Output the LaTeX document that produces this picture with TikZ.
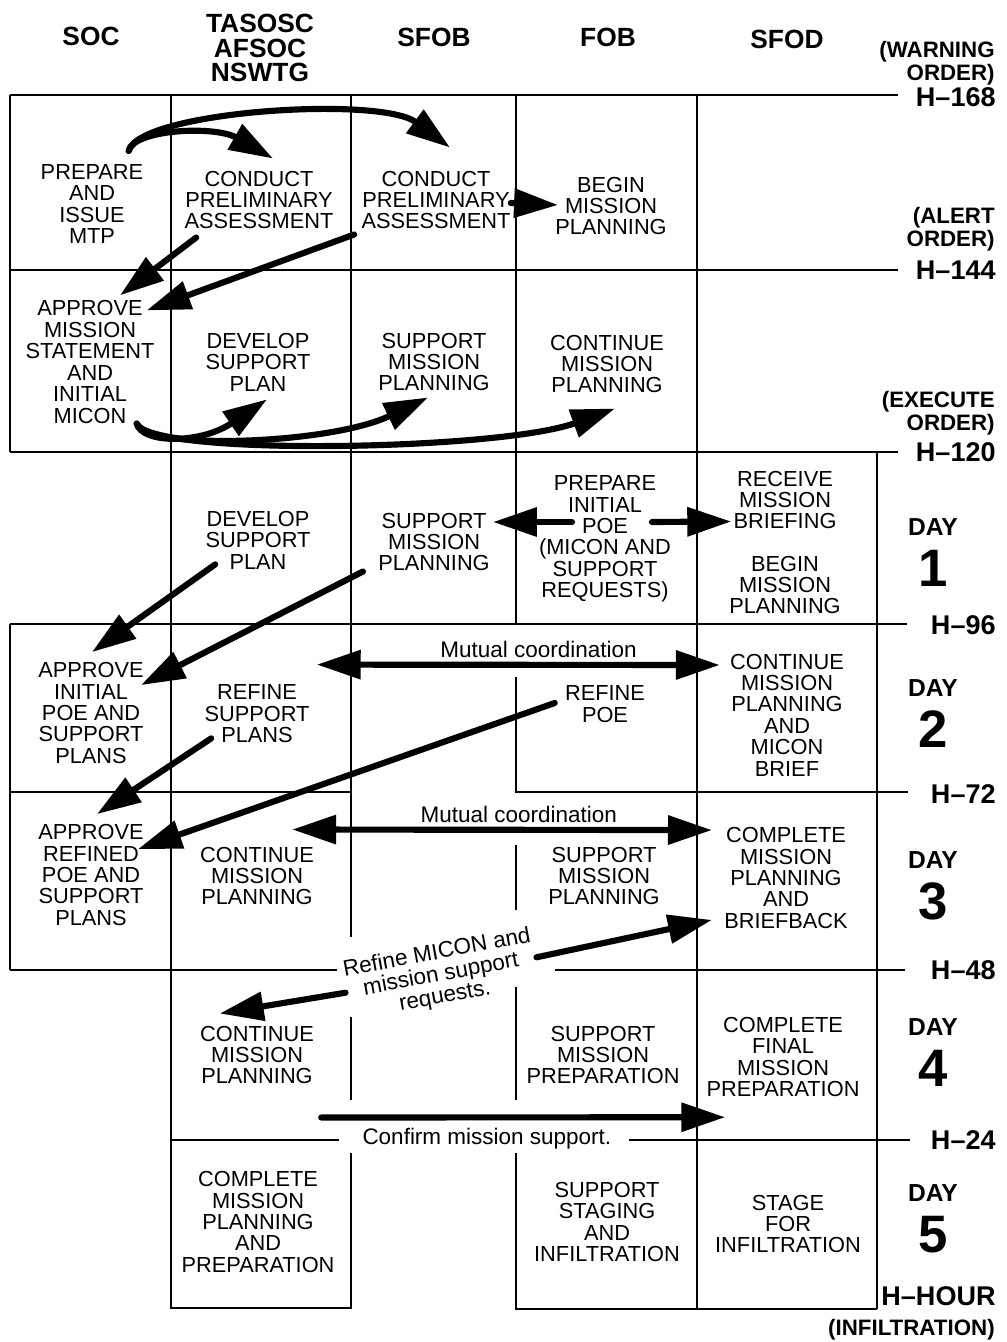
\documentclass[tikz,border=0pt]{standalone}
\usepackage{fontspec}
\setmainfont{Liberation Sans}
\usetikzlibrary{positioning, arrows.meta}
\tikzset{
    cell/.style={align=center, inner sep=0pt, font=\fontsize{12.4}{12.2}\selectfont},
    colhead/.style={align=center, inner sep=0pt, font=\bfseries\fontsize{15}{14}\selectfont},
    hourlbl/.style={anchor=east, inner sep=0pt, font=\bfseries\fontsize{15.4}{15}\selectfont},
    orderlbl/.style={anchor=east, align=right, inner sep=0pt, font=\bfseries\fontsize{12.7}{13}\selectfont},
    daylbl/.style={inner sep=0pt, font=\bfseries\fontsize{14}{14}\selectfont},
    daynum/.style={inner sep=0pt, font=\bfseries\fontsize{30}{30}\selectfont},
    note/.style={align=center, inner sep=1pt, font=\fontsize{12.8}{12.5}\selectfont},
    gridline/.style={line width=1.2pt},
    flow/.style={line width=3.5pt, line cap=round, -{Triangle[length=25pt, width=16pt]}},
    twoway/.style={line width=3.5pt, {Triangle[length=25pt, width=16pt]}-{Triangle[length=25pt, width=16pt]}},
}

\begin{document}
\begin{tikzpicture}[x=0.02cm, y=-0.02cm]
    \useasboundingbox (0,0) rectangle (1007,1342);

    % Intestazioni delle colonne
    \node[colhead] (hsoc) at (91,36) {SOC};
    \node[colhead] (htas) at (260,48) {TASOSC\\AFSOC\\NSWTG};
    \node[colhead] (hsfob) at (434,37) {SFOB};
    \node[colhead] (hfob) at (608,37) {FOB};
    \node[colhead] (hsfod) at (787,39) {SFOD};

    % Linee orarie
    \draw[gridline] (10,95) -- (898,95);
    \draw[gridline] (10,270) -- (898,270);
    \draw[gridline] (10,452) -- (898,452);
    \draw[gridline] (10,624) -- (907,624);
    \draw[gridline] (10,792) -- (351,792);
    \draw[gridline] (516,677) -- (516,792) -- (908,792);
    \draw[gridline] (10,970) -- (337,970);
    \draw[gridline] (555,970) -- (905,970);
    \draw[gridline] (171,1140) -- (339,1140);
    \draw[gridline] (629,1140) -- (910,1140);

    % Bordi delle colonne
    \draw[gridline] (10,95) -- (10,452);
    \draw[gridline] (10,624) -- (10,970);
    \draw[gridline] (171,95) -- (171,1308) -- (351,1308) -- (351,1153);
    \draw[gridline] (351,95) -- (351,937);
    \draw[gridline] (351,1017) -- (351,1100);
    \draw[gridline] (516,95) -- (516,624);
    \draw[gridline] (516,845) -- (516,910);
    \draw[gridline] (516,987) -- (516,1100);
    \draw[gridline] (516,1153) -- (516,1309) -- (877,1309);
    \draw[gridline] (697,95) -- (697,1309);
    \draw[gridline] (877,452) -- (877,1309);

    % Ore e ordini
    \foreach \h/\y in {168/97, 144/270, 120/452, 96/625, 72/794, 48/970, 24/1140}
        \node[hourlbl] (h\h) at (996,\y) {H--\h};
    \node[hourlbl] (hhour) at (996,1296) {H--HOUR};
    \node[orderlbl] (warn) at (995,63) {(WARNING\\ORDER)};
    \node[orderlbl] (alert) at (995,229) {(ALERT\\ORDER)};
    \node[orderlbl] (exec) at (995,413) {(EXECUTE\\ORDER)};
    \node[orderlbl] (infil) at (995,1330) {(INFILTRATION)};

    % Giorni
    \foreach \d/\y in {1/527, 2/688, 3/860, 4/1027, 5/1193}{
        \node[daylbl] (day\d) at (933,\y) {DAY};
        \node[daynum, below=0.28cm of day\d] (num\d) {\d};
    }

    % Da H-168 a H-144
    \node[cell] (soc1) at (92,204) {PREPARE\\AND\\ISSUE\\MTP};
    \node[cell] (tas1) at (259,200) {CONDUCT\\PRELIMINARY\\ASSESSMENT};
    \node[cell] (sfob1) at (436,200) {CONDUCT\\PRELIMINARY\\ASSESSMENT};
    \node[cell] (fob1) at (611,206) {BEGIN\\MISSION\\PLANNING};

    % Da H-144 a H-120
    \node[cell] (soc2) at (90,362) {APPROVE\\MISSION\\STATEMENT\\AND\\INITIAL\\MICON};
    \node[cell] (tas2) at (258,362) {DEVELOP\\SUPPORT\\PLAN};
    \node[cell] (sfob2) at (434,362) {SUPPORT\\MISSION\\PLANNING};
    \node[cell] (fob2) at (607,364) {CONTINUE\\MISSION\\PLANNING};

    % Giorno 1
    \node[cell] (tas3) at (258,540) {DEVELOP\\SUPPORT\\PLAN};
    \node[cell] (sfob3) at (434,542) {SUPPORT\\MISSION\\PLANNING};
    \node[cell] (fob3) at (605,539) {PREPARE\\INITIAL\\POE\\(MICON AND\\SUPPORT\\REQUESTS)};
    \node[cell] (sfod3a) at (785,500) {RECEIVE\\MISSION\\BRIEFING};
    \node[cell] (sfod3b) at (785,585) {BEGIN\\MISSION\\PLANNING};

    % Giorno 2
    \node[cell] (soc4) at (91,713) {APPROVE\\INITIAL\\POE AND\\SUPPORT\\PLANS};
    \node[cell] (tas4) at (257,714) {REFINE\\SUPPORT\\PLANS};
    \node[cell] (fob4) at (605,704) {REFINE\\POE};
    \node[cell] (sfod4) at (787,715) {CONTINUE\\MISSION\\PLANNING\\AND\\MICON\\BRIEF};

    % Giorno 3
    \node[cell] (soc5) at (91,875) {APPROVE\\REFINED\\POE AND\\SUPPORT\\PLANS};
    \node[cell] (tas5) at (257,876) {CONTINUE\\MISSION\\PLANNING};
    \node[cell] (fob5) at (604,876) {SUPPORT\\MISSION\\PLANNING};
    \node[cell] (sfod5) at (786,878) {COMPLETE\\MISSION\\PLANNING\\AND\\BRIEFBACK};

    % Giorno 4
    \node[cell] (tas6) at (257,1055) {CONTINUE\\MISSION\\PLANNING};
    \node[cell] (fob6) at (603,1055) {SUPPORT\\MISSION\\PREPARATION};
    \node[cell] (sfod6) at (783,1057) {COMPLETE\\FINAL\\MISSION\\PREPARATION};

    % Giorno 5
    \node[cell] (tas7) at (258,1222) {COMPLETE\\MISSION\\PLANNING\\AND\\PREPARATION};
    \node[cell] (fob7) at (607,1222) {SUPPORT\\STAGING\\AND\\INFILTRATION};
    \node[cell] (sfod7) at (788,1224) {STAGE\\FOR\\INFILTRATION};

    % Frecce: MTP e valutazioni
    \draw[flow] ([shift={(-15,-13)}]soc1.north east) .. controls +(5,-22) and +(-58,-33) .. ([shift={(14,-12)}]tas1.north);
    \draw[flow] ([shift={(-15,-13)}]soc1.north east) .. controls +(10,-40) and +(-70,-52) .. ([shift={(14,-23)}]sfob1.north);
    \draw[flow] ([shift={(12,8)}]tas1.south west) -- ([shift={(30,-5)}]soc2.north);
    \draw[flow] ([shift={(-7,5)}]sfob1.south west) -- ([shift={(-8,10)}]soc2.north east);
    \draw[flow] ([shift={(0,3)}]sfob1.east) -- ([shift={(3,-1)}]fob1.west);

    % Frecce: dalla MICON iniziale
    \draw[flow] ([shift={(-18,0)}]soc2.south east) .. controls +(5,20) and +(-67,45) .. ([shift={(9,8)}]tas2.south);
    \draw[flow] ([shift={(-18,0)}]soc2.south east) .. controls +(10,27) and +(-98,47) .. ([shift={(-6,6)}]sfob2.south);
    \draw[flow] ([shift={(-18,0)}]soc2.south east) .. controls +(15,33) and +(-115,42) .. ([shift={(8,15)}]fob2.south);

    % Frecce: giorno 1
    \draw[flow] ([shift={(-33,-17)}]fob3.center) -- ([shift={(3,-20)}]sfob3.east);
    \draw[flow] ([shift={(47,-17)}]fob3.center) -- ([shift={(-2,-8)}]sfod3a.south west);
    \draw[flow] ([shift={(10,-5)}]tas3.south west) -- ([shift={(1,-10)}]soc4.north);
    \draw[flow] ([shift={(-15,0)}]sfob3.south west) -- ([shift={(-3,23)}]soc4.north east);

    % Frecce: giorno 2
    \draw[twoway] ([shift={(7,-20)}]tas4.north east) -- ([shift={(-10,-50)}]sfod4.west)
        node[note, pos=.55, yshift=8.5pt] (mc1) {Mutual coordination};
    \draw[flow] ([shift={(7,-5)}]tas4.south west) -- ([shift={(6,-10)}]soc5.north);
    \draw[flow] ([shift={(-10,-1)}]fob4.west) -- ([shift={(-6,25)}]soc5.north east);

    % Frecce: giorno 3
    \draw[twoway] ([shift={(-22,-17)}]tas5.north east) -- ([shift={(-12,3)}]sfod5.north west)
        node[note, pos=.54, yshift=8.5pt] (mc2) {Mutual coordination};
    \node[note, rotate=10.5] (rm) at (441,975) {Refine MICON and\\mission support\\requests.};
    \draw[flow] (rm.east) -- ([shift={(-12,-9)}]sfod5.south west);
    \draw[flow] (rm.west) -- ([shift={(20,-12)}]tas6.north west);

    % Frecce: giorno 4
    \draw[flow] ([shift={(7,33)}]tas6.south east) -- ([shift={(19,20)}]sfod6.south west)
        node[note, pos=.41, yshift=-12pt] (cms) {Confirm mission support.};
\end{tikzpicture}
\end{document}
